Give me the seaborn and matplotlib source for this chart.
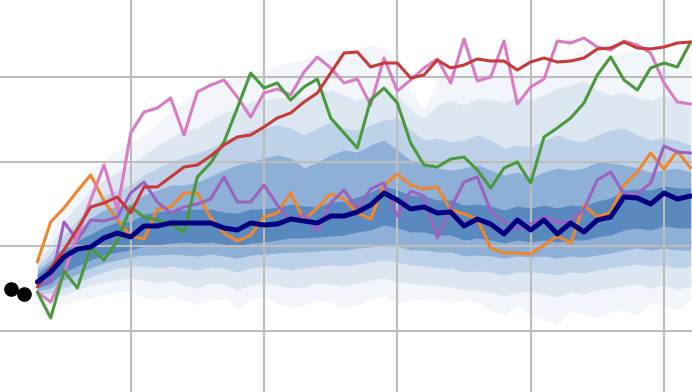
import numpy as np
import matplotlib
matplotlib.use("Agg")
import matplotlib.pyplot as plt
import seaborn as sns

steps = list(range(50))
hist_x = [-2, -1]
hist_y = [103, 98]

median = [110,120,135,143,145,154,159,155,166,166,169,169,169,169,164,162,169,167,168,173,
          171,169,176,176,180,187,199,192,183,185,179,180,166,173,168,158,172,162,172,158,
          169,160,172,175,195,194,188,199,193,196]
red = [105,124,142,163,185,189,195,179,205,205,215,225,227,236,247,255,257,265,274,279,
       290,299,319,339,340,325,329,329,314,317,332,324,327,333,331,331,322,330,334,330,
       331,334,343,344,350,344,343,345,349,350]
green = [100,74,121,104,144,132,151,185,175,172,168,160,215,229,250,284,319,304,309,292,
         305,313,274,259,244,292,304,289,249,227,225,233,235,222,204,224,230,209,255,264,
         274,289,317,335,312,302,324,329,325,350]
pink = [100,90,119,156,192,227,182,259,280,284,294,257,300,307,312,295,275,299,303,297,
        320,335,324,309,313,287,334,301,312,324,333,309,353,311,315,351,288,305,313,351,
        349,354,345,342,351,347,339,309,290,288]
purple = [110,109,170,152,172,171,175,199,210,190,179,185,188,193,215,190,190,207,187,172,
          177,162,189,202,183,203,209,176,201,196,154,184,210,215,181,170,163,168,175,170,
          170,183,212,220,198,198,209,246,240,239]
orange = [130,170,184,201,217,191,172,156,153,183,185,199,199,174,159,151,157,175,179,199,
          172,184,198,193,179,173,207,218,207,203,205,182,178,173,144,139,139,138,147,156,
          149,187,175,180,207,220,239,223,241,224]

# fan chart quantile bands (outer -> inner)
u1 = [134,157,187,207,222,232,242,250,257,267,280,292,300,307,312,314,320,322,326,330,
      332,337,342,344,342,347,344,337,302,282,312,322,320,327,332,334,322,314,322,330,
      337,342,340,337,342,340,337,332,334,337]
u2 = [130,147,170,187,202,212,220,227,237,247,254,262,264,272,280,282,290,292,294,295,
      295,300,302,297,292,297,302,297,282,274,287,292,287,294,292,290,294,292,297,304,
      307,312,302,297,300,294,292,297,292,287]
u3 = [126,139,157,172,187,196,202,207,217,224,230,235,239,244,252,257,262,264,267,264,
      257,264,270,264,262,267,272,274,262,252,254,250,252,257,252,244,247,245,252,257,
      252,250,257,262,264,257,252,254,252,247]
u4 = [122,132,146,160,174,182,186,189,197,202,207,207,210,216,222,227,230,234,237,234,
      224,230,237,242,240,247,252,242,232,227,224,222,224,227,222,217,220,214,220,224,
      222,224,230,229,227,224,220,222,224,220]
u5 = [118,128,141,151,158,165,170,170,178,180,182,182,183,183,180,179,183,183,185,188,
      186,185,190,191,195,200,206,202,197,196,192,192,187,188,186,182,186,184,187,184,
      187,186,191,194,202,203,202,206,204,204]
l5 = [104,109,120,126,132,137,140,142,146,147,149,150,149,150,148,146,149,150,152,154,
      154,155,156,157,160,162,167,164,160,160,157,157,152,154,152,149,152,150,152,150,
      152,152,155,157,162,164,162,166,164,164]
l4 = [101,104,112,118,124,129,132,135,137,137,138,137,136,138,136,134,137,138,139,140,
      140,141,142,142,144,145,148,146,142,142,140,140,136,137,136,134,136,135,136,134,
      136,135,137,139,142,144,142,144,142,142]
l3 = [98,99,104,110,115,120,124,126,126,124,126,124,122,125,124,120,124,126,124,122,
      124,126,127,126,128,130,132,130,127,126,124,124,120,121,120,117,120,120,119,117,
      120,119,122,124,126,128,126,127,124,126]
l2 = [95,95,97,102,107,110,112,114,112,109,112,107,104,109,108,102,107,110,107,104,
      105,109,108,106,109,112,114,110,109,107,107,105,102,102,100,96,100,100,98,95,
      100,98,102,104,106,108,104,107,102,106]
l1 = [92,89,87,92,94,97,100,100,95,92,97,92,87,92,94,84,92,96,89,84,
      87,92,90,84,87,94,96,89,92,92,94,89,92,90,82,77,87,77,72,67,
      82,77,74,80,82,77,89,87,82,92]

band_upper = [u1, u2, u3, u4, u5]
band_lower = [l1, l2, l3, l4, l5]
band_colors = ["#f2f6fb", "#dde7f2", "#bdd2e8", "#8fb0d6", "#5a89c0"]

x_grid = [7, 17, 27, 37, 47]
y_grid = [61, 146, 230, 315]

sns.set_theme(style="white")
fig = plt.figure(figsize=(6.92, 3.92), dpi=100)
ax = fig.add_axes([0, 0, 1, 1])

for up, lo, c in zip(band_upper, band_lower, band_colors):
    ax.fill_between(steps, lo, up, color=c, lw=0, zorder=0.2)

ax.set_xticks(x_grid)
ax.set_yticks(y_grid)
ax.grid(True, color="#bdbdbd", lw=1.5, zorder=0.6)
ax.set_axisbelow(True)
ax.tick_params(length=0, labelbottom=False, labelleft=False)
for s in ax.spines.values():
    s.set_visible(False)

series = [
    (orange, "#f0862c", 2.2),
    (purple, "#9b62c0", 2.2),
    (pink, "#d97cc4", 2.2),
    (green, "#4a9a3b", 2.2),
    (red, "#c9393a", 2.2),
]
for vals, col, lw in series:
    sns.lineplot(x=steps, y=vals, color=col, lw=lw, ax=ax, zorder=3)
sns.lineplot(x=steps, y=median, color="#000080", lw=3.6, ax=ax, zorder=4)

ax.plot(hist_x, hist_y, "o", color="black", ms=9.5, zorder=5)

ax.set_xlim(-2.8, 49.1)
ax.set_ylim(0, 392)
ax.set_xlabel("")
ax.set_ylabel("")
fig.savefig("out.png", dpi=100)
